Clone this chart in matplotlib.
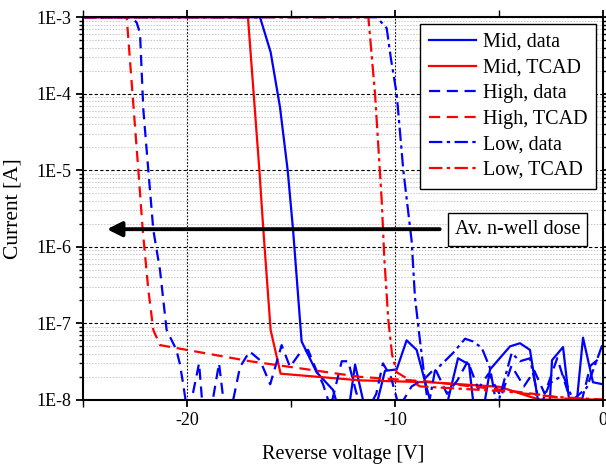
import numpy as np
import matplotlib.pyplot as plt
from matplotlib.ticker import FixedLocator, FuncFormatter, LogLocator, NullFormatter

plt.rcParams['font.family'] = ['Liberation Serif', 'DejaVu Serif']
plt.rcParams['axes.unicode_minus'] = False

# ---------- data ----------
mid_data_v = [-25, -16.49, -15.98, -15.53, -15.16, -14.9, -14.49, -13.77, -12.98, -12.84,
              -12.5, -12.16, -11.92, -11.54, -11.2, -10.83, -10.48, -9.92, -9.44, -8.96,
              -8.32, -7.9, -7.45, -6.97, -6.44, -6.25, -5.9, -5.67, -5.43, -4.47, -3.99,
              -3.51, -3.13, -2.8, -2.55, -2.45, -1.92, -1.63, -1.4, -1.25, -0.96, -0.48, 0]
mid_data_i = [1e-3, 1e-3, 3.5e-4, 6.7e-5, 1e-5, 1.65e-6, 5.8e-8, 2.3e-8, 1.35e-8, 1e-8,
              5e-9, 1e-8, 2.9e-8, 1e-8, 5e-9, 1e-8, 2.4e-8, 2.5e-8, 6e-8, 4.5e-8,
              1e-8, 5e-9, 1e-8, 3.5e-8, 2.9e-8, 1e-8, 5e-9, 1e-8, 2.5e-8, 5e-8, 5.5e-8,
              4.5e-8, 1e-8, 5e-9, 1e-8, 3.3e-8, 4.9e-8, 1e-8, 5e-9, 1e-8, 6.5e-8, 1.7e-8, 1.6e-8]

mid_tcad_v = [-25, -17.07, -16.52, -16.33, -15.98, -15.5, -11.68, -8.32, -4.95, -3.51, -3.03, 0]
mid_tcad_i = [1e-3, 1e-3, 1e-5, 1.66e-6, 8.2e-8, 2.2e-8, 1.8e-8, 1.7e-8, 1.48e-8, 1.1e-8, 1.01e-8, 1e-8]

high_data_v = [-25, -22.66, -22.42, -22.26, -22.1, -21.86, -21.62, -21.3, -20.98, -20.51,
               -20.35, -20.19, -19.95, -19.42, -19.25, -18.9, -18.46, -18.25, -17.95,
               -17.45, -16.99, -16.49, -16.0, -15.45, -15.05, -14.57, -14.18, -13.77,
               -13.46, -13.1, -12.56, -12.25, -11.88, -11.5, -10.9, -10.58, -10.2, -9.8,
               -9.2, -8.56, -8.08, -7.5, -7.0, -6.5, -6.0, -5.5, -4.9, -4.4, -3.8, -3.3,
               -2.8, -2.2, -1.7, -1.1, -0.6, 0]
high_data_i = [1e-3, 1e-3, 8.5e-4, 6.2e-4, 6.2e-5, 1e-5, 1.66e-6, 5e-7, 8.2e-8, 4.5e-8,
               3e-8, 1.65e-8, 6e-9, 3e-8, 8e-9, 6e-9, 3e-8, 1e-8, 6e-9,
               2.7e-8, 4.3e-8, 3.3e-8, 1.6e-8, 5.2e-8, 2.7e-8, 4.1e-8, 4.5e-8, 2.4e-8,
               1.6e-8, 8e-9, 3.2e-8, 3.2e-8, 1.3e-8, 6e-9, 1.2e-8, 3e-8, 2e-8, 8e-9,
               1.5e-8, 1.9e-8, 2.6e-8, 1.2e-8, 1.8e-8, 3.2e-8, 1.4e-8, 2.2e-8, 1.1e-8,
               2.8e-8, 1.5e-8, 2.4e-8, 1.2e-8, 3.5e-8, 1.3e-8, 8e-9, 2.8e-8, 3.8e-8]

high_tcad_v = [-25, -22.9, -22.34, -22.13, -21.86, -21.62, -21.3, -16.97, -11.68, -8.32,
               -4.81, -3.03, -1.59, 0]
high_tcad_i = [1e-3, 1e-3, 1e-5, 1.66e-6, 2.75e-7, 8.2e-8, 5.2e-8, 3.2e-8, 2e-8, 1.73e-8,
               1.35e-8, 1.17e-8, 1.02e-8, 1e-8]

low_data_v = [-25, -10.88, -10.4, -10.19, -9.92, -9.6, -9.2, -9.04, -8.8, -8.4, -8.08,
              -7.21, -6.63, -6.25, -5.83, -5.43, -5.1, -4.39, -3.99, -3.51, -3.03,
              -2.55, -1.92, -1.44, -0.78, 0]
low_data_i = [1e-3, 1e-3, 7.2e-4, 2.8e-4, 1e-4, 1e-5, 1.2e-6, 2.2e-7, 6e-8, 8e-9, 2.4e-8,
              4.1e-8, 6.3e-8, 5.8e-8, 4.8e-8, 2.6e-8, 8e-9, 4.1e-8, 3.2e-8, 3.5e-8, 8e-9,
              1.66e-8, 2.1e-8, 1.0e-8, 1.45e-8, 5.5e-8]

low_tcad_v = [-25, -11.28, -10.96, -10.64, -10.51, -10.32, -10.14, -9.92, -8.8, -4.81, -2.4, 0]
low_tcad_i = [1e-3, 1e-3, 1e-4, 4.1e-6, 6.8e-7, 1.1e-7, 3.9e-8, 2.3e-8, 1.5e-8, 1.3e-8, 1.1e-8, 1.01e-8]

arrow_v = (-7.85, -23.85)
arrow_i = 1.7e-6

# ---------- figure ----------
fig = plt.figure(figsize=(6.06, 4.65), dpi=100)
ax = fig.add_axes([0.137, 0.140, 0.858, 0.823])

blue = "#0000ff"
red = "#ff0000"
lw = 1.6
dash = (5, 3)
dashdot = (6, 2, 1.5, 2)

ax.plot(mid_data_v, mid_data_i, color=blue, lw=lw, ls="-", label="Mid, data")
ax.plot(mid_tcad_v, mid_tcad_i, color=red, lw=lw, ls="-", label="Mid, TCAD")
ax.plot(high_data_v, high_data_i, color=blue, lw=lw, ls=(0, dash), label="High, data")
ax.plot(high_tcad_v, high_tcad_i, color=red, lw=lw, ls=(0, dash), label="High, TCAD")
ax.plot(low_data_v, low_data_i, color=blue, lw=lw, ls=(0, dashdot), label="Low, data")
ax.plot(low_tcad_v, low_tcad_i, color=red, lw=lw, ls=(0, dashdot), label="Low, TCAD")

ax.set_yscale("log")
ax.set_xlim(-25, 0)
ax.set_ylim(1e-8, 1e-3)

# ticks
ax.xaxis.set_major_locator(FixedLocator([-20, -10, 0]))
ax.xaxis.set_minor_locator(FixedLocator([-25, -15, -5]))
ax.yaxis.set_major_locator(LogLocator(base=10, numticks=10))
ax.yaxis.set_minor_locator(LogLocator(base=10, subs=np.arange(2, 10), numticks=100))
ax.yaxis.set_minor_formatter(NullFormatter())
ax.yaxis.set_major_formatter(FuncFormatter(lambda v, p: "1E%d" % int(round(np.log10(v)))))

ax.tick_params(axis="both", which="major", direction="out", length=5, width=1.3,
               labelsize=13, top=True, right=True)
ax.tick_params(axis="both", which="minor", direction="out", length=3, width=1.0,
               top=True, right=True)
ax.tick_params(axis="x", which="minor", length=5)

# grid
ax.grid(True, which="major", axis="y", color="black", ls=(0, (3, 2)), lw=0.8)
ax.grid(True, which="major", axis="x", color="black", ls=(0, (1.5, 1.5)), lw=0.8)
ax.grid(True, which="minor", axis="y", color="#c8c8c8", ls=(0, (1.5, 1.5)), lw=0.7)
ax.set_axisbelow(True)

for s in ax.spines.values():
    s.set_linewidth(1.5)

ax.set_xlabel("Reverse voltage [V]", fontsize=14.5, labelpad=12)
ax.set_ylabel("Current [A]", fontsize=15.5, labelpad=10)

# arrow + text box
ax.annotate("", xy=(arrow_v[1], arrow_i), xytext=(arrow_v[0], arrow_i),
            arrowprops=dict(arrowstyle="-|>", lw=2.8, color="black", mutation_scale=22,
                            shrinkA=0, shrinkB=0))
ax.text(-4.1, arrow_i, "Av. n-well dose", ha="center", va="center", fontsize=14.5,
        bbox=dict(boxstyle="square,pad=0.35", fc="white", ec="black", lw=1.0))

leg = ax.legend(loc="upper right", fontsize=14.5, frameon=True, fancybox=False,
                edgecolor="black", framealpha=1, handlelength=2.3, labelspacing=0.32,
                borderpad=0.45, handletextpad=0.35, borderaxespad=0.33)
leg.get_frame().set_linewidth(1.0)

fig.savefig("out.png", dpi=100)
